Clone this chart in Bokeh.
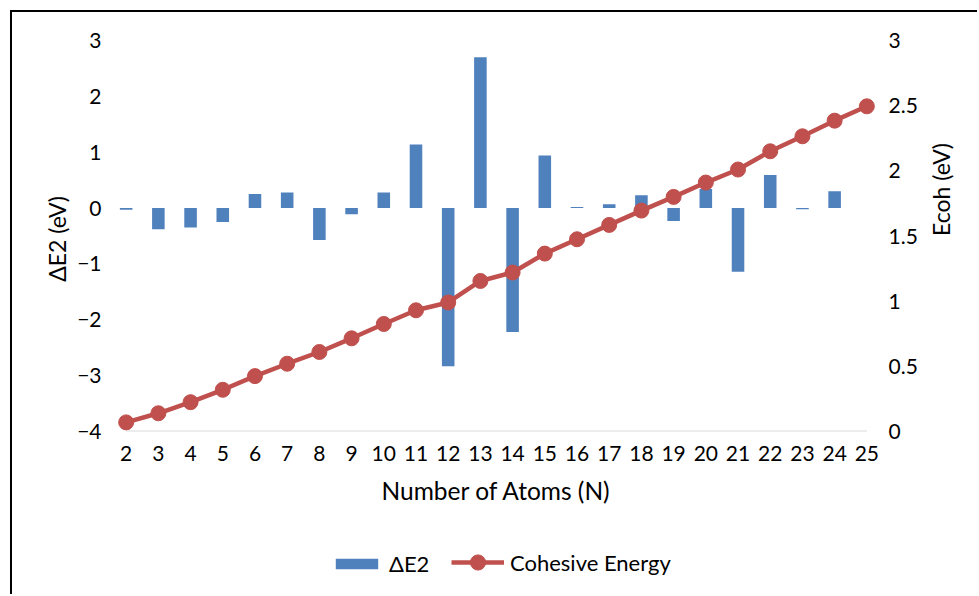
from math import pi

from bokeh.embed import file_html
from bokeh.layouts import column
from bokeh.models import (ColumnDataSource, FixedTicker, Legend, LegendItem,
                          LinearAxis, Range1d)
from bokeh.plotting import figure
from bokeh.resources import INLINE

# Cluster size N
atoms = list(range(2, 26))
# Second-order energy difference (eV); defined up to N = 24
delta_e2 = [-0.03, -0.38, -0.35, -0.25, 0.25, 0.28, -0.57, -0.11, 0.28, 1.14,
            -2.83, 2.70, -2.22, 0.94, 0.02, 0.07, 0.23, -0.23, 0.34, -1.14,
            0.59, -0.02, 0.30]
# Cohesive energy per atom (eV)
e_coh = [0.07, 0.14, 0.225, 0.32, 0.425, 0.52, 0.61, 0.715, 0.825, 0.93,
         0.99, 1.155, 1.22, 1.365, 1.475, 1.585, 1.695, 1.80, 1.91, 2.01,
         2.15, 2.265, 2.385, 2.495]

left_ticks = [-4, -3, -2, -1, 0, 1, 2, 3]
right_ticks = [0, 0.5, 1, 1.5, 2, 2.5, 3]
right_tick_labels = ["0", "0.5", "1", "1.5", "2", "2.5", "3"]

FONT = "Lato"
BLUE = "#4f81bd"
RED = "#c0504d"

# chart box: a black rule along its top and left edges
OFF = 12
W = 979 - OFF
H_CHART, H_KEY = 530 - OFF, 66
# the plot area reaches a little past N=2 and N=25 so the end markers show whole
PAD = 0.3
ML, MR, MT, MB = 104, 103, 28, 99
X0, X1 = 2 - PAD, 25 + PAD

p = figure(width=W, height=H_CHART, output_backend="svg", toolbar_location=None,
           x_range=Range1d(X0, X1), y_range=Range1d(-4, 3),
           min_border_left=ML, min_border_right=MR,
           min_border_top=MT, min_border_bottom=MB,
           outline_line_color=None, background_fill_color="white",
           border_fill_color="white",
           styles={"margin-left": "10px", "margin-top": "10px",
                   "border-left": "2px solid black",
                   "border-top": "2px solid black"})
p.grid.visible = False
p.extra_y_ranges = {"ecoh": Range1d(0, 3)}

bar_src = ColumnDataSource(dict(n=atoms[:len(delta_e2)], de=delta_e2))
line_src = ColumnDataSource(dict(n=atoms, ec=e_coh))

# category baseline from the first to the last cluster size
p.segment(x0=[atoms[0]], x1=[atoms[-1]], y0=[-4], y1=[-4],
          line_color="#d9d9d9", line_width=2)

bar_style = dict(fill_color=BLUE, line_color=None)
line_style = dict(line_color=RED, line_width=4.5)
dot_style = dict(size=15, fill_color=RED, line_color=RED)

p.vbar(x="n", top="de", bottom=0, width=0.39, source=bar_src, **bar_style)
p.line(x="n", y="ec", source=line_src, y_range_name="ecoh", **line_style)
p.scatter(x="n", y="ec", source=line_src, y_range_name="ecoh", **dot_style)


def style_axis(ax):
    ax.major_tick_line_color = None
    ax.minor_tick_line_color = None
    ax.major_tick_out = 0
    ax.major_tick_in = 0
    ax.axis_line_color = None
    ax.major_label_text_font = FONT
    ax.major_label_text_font_size = "21px"
    ax.major_label_text_color = "black"
    ax.axis_label_text_font = FONT
    ax.axis_label_text_font_style = "normal"
    ax.axis_label_text_color = "black"
    ax.axis_label_text_font_size = "23px"


xa = p.xaxis[0]
style_axis(xa)
xa.ticker = FixedTicker(ticks=atoms)
xa.major_label_standoff = 14
xa.axis_label = "Number of Atoms (N)"
xa.axis_label_standoff = 12
xa.axis_label_text_font_size = "24.5px"

ya = p.yaxis[0]
style_axis(ya)
ya.ticker = FixedTicker(ticks=left_ticks)
ya.major_label_standoff = 15
ya.axis_label = "\u0394E2  (eV)"
ya.axis_label_standoff = 3

ra = LinearAxis(y_range_name="ecoh")
style_axis(ra)
ra.ticker = FixedTicker(ticks=right_ticks)
ra.major_label_overrides = {t: s for t, s in zip(right_ticks, right_tick_labels)}
ra.major_label_standoff = 12
ra.axis_label = "Ecoh (eV)"
ra.axis_label_standoff = 20
# title reads bottom to top, like the left one
try:
    ra.axis_label_orientation = pi / 2
except (AttributeError, ValueError):
    pass
p.add_layout(ra, "right")

# key strip under the chart; its renderers are hidden and only lend their
# styles to the legend swatches
key = figure(width=W, height=H_KEY, output_backend="svg", toolbar_location=None,
             x_range=Range1d(0, 1), y_range=Range1d(0, 1),
             x_axis_location=None, y_axis_location=None, min_border=0,
             outline_line_color=None, background_fill_color="white",
             border_fill_color="white",
             styles={"margin-left": "10px", "border-left": "2px solid black"})
key.grid.visible = False
k_bar = key.vbar(x="n", top="de", bottom=0, width=0.39, source=bar_src,
                 visible=False, **bar_style)
k_line = key.line(x="n", y="ec", source=line_src, visible=False, **line_style)
k_dot = key.scatter(x="n", y="ec", source=line_src, visible=False, **dot_style)

legend_style = dict(orientation="horizontal", glyph_width=53, label_standoff=6,
                    padding=0, margin=0, border_line_color=None,
                    background_fill_alpha=0, inactive_fill_alpha=0,
                    label_text_font=FONT, label_text_font_size="22px",
                    label_text_color="black")

# flat swatch for the bars, taller swatch so the line key shows a full marker
bar_key = Legend(items=[LegendItem(label="\u0394E2", renderers=[k_bar])],
                 location=(214, 17), glyph_height=13, **legend_style)
line_key = Legend(items=[LegendItem(label="Cohesive Energy",
                                    renderers=[k_line, k_dot])],
                  location=(335, 13), glyph_height=38, **legend_style)
key.add_layout(bar_key, "center")
key.add_layout(line_key, "center")

open("out.html", "w").write(file_html(column(p, key, spacing=0), INLINE))
